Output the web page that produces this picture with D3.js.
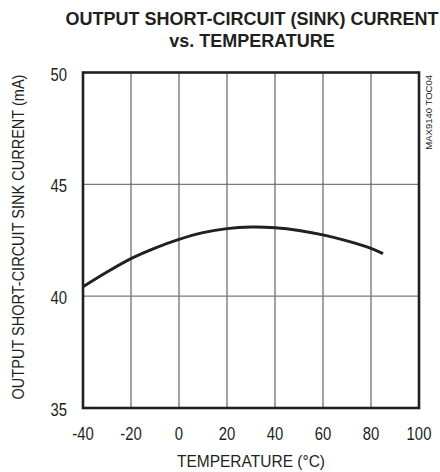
<!DOCTYPE html>
<html><head><meta charset="utf-8">
<script src="https://cdn.jsdelivr.net/npm/d3@7"></script>
<style>
body{margin:0;background:#fff;}
text{font-family:"Liberation Sans",Arial,sans-serif;fill:#231f20;}
</style></head>
<body><svg id="c" width="440" height="472"></svg>
<script>
const temperature = [-40, -30, -20, -10, 0, 10, 20, 30, 40, 50, 60, 70, 80, 85];
const sinkCurrent = [40.42, 41.08, 41.68, 42.15, 42.54, 42.84, 43.02, 43.09, 43.06, 42.94, 42.74, 42.47, 42.14, 41.9];
const xTicks = [-40, -20, 0, 20, 40, 60, 80, 100];
const yTicks = [35, 40, 45, 50];
const titleLines = ["OUTPUT SHORT-CIRCUIT (SINK) CURRENT", "vs. TEMPERATURE"];
const xTitle = "TEMPERATURE (°C)";
const yTitle = "OUTPUT SHORT-CIRCUIT SINK CURRENT (mA)";
const tag = "MAX9140 TOC04";

const svg = d3.select("#c");
const L = 83, R = 419, T = 72.5, B = 408;
const x = d3.scaleLinear().domain([-40, 100]).range([L, R]);
const y = d3.scaleLinear().domain([35, 50]).range([B, T]);

function condense(sel, f) {
  sel.each(function () {
    const w = this.getComputedTextLength();
    d3.select(this).attr("textLength", w * f).attr("lengthAdjust", "spacingAndGlyphs");
  });
  return sel;
}

// grid
const g = svg.append("g");
g.selectAll("line.vx").data(xTicks.slice(1, -1)).enter().append("line")
  .attr("x1", d => x(d)).attr("x2", d => x(d)).attr("y1", T).attr("y2", B)
  .attr("stroke", "#7a7a7a").attr("stroke-width", 1.4);
g.selectAll("line.hy").data(yTicks.slice(1, -1)).enter().append("line")
  .attr("x1", L).attr("x2", R).attr("y1", d => y(d)).attr("y2", d => y(d))
  .attr("stroke", "#7a7a7a").attr("stroke-width", 1.4);

// curve
const line = d3.line().x((d, i) => x(temperature[i])).y(d => y(d)).curve(d3.curveCatmullRom);
svg.append("path").datum(sinkCurrent).attr("d", line)
  .attr("fill", "none").attr("stroke", "#231f20").attr("stroke-width", 3);

// frame
svg.append("rect").attr("x", L).attr("y", T).attr("width", R - L).attr("height", B - T)
  .attr("fill", "none").attr("stroke", "#231f20").attr("stroke-width", 2.6);

// tick labels
condense(svg.selectAll("text.xt").data(xTicks).enter().append("text")
  .attr("x", d => x(d)).attr("y", 440).attr("text-anchor", "middle")
  .attr("font-size", 17.5).text(d => d), 0.85);
condense(svg.selectAll("text.yt").data(yTicks).enter().append("text")
  .attr("x", 67).attr("y", d => y(d) + 8).attr("text-anchor", "end")
  .attr("font-size", 17.5).text(d => d), 0.85);

// titles
svg.selectAll("text.title").data(titleLines).enter().append("text")
  .attr("x", 252).attr("y", (d, i) => 25 + i * 22).attr("text-anchor", "middle")
  .attr("font-size", 18).attr("font-weight", "bold").text(d => d);
condense(svg.append("text").attr("x", 251).attr("y", 467).attr("text-anchor", "middle")
  .attr("font-size", 16.5).text(xTitle), 0.94);
condense(svg.append("text").attr("transform", "translate(24,237) rotate(-90)").attr("text-anchor", "middle")
  .attr("font-size", 16.5).text(yTitle), 0.88);
svg.append("text").attr("transform", "translate(432,75) rotate(-90)").attr("text-anchor", "end")
  .attr("font-size", 9.5).text(tag);
</script></body></html>
